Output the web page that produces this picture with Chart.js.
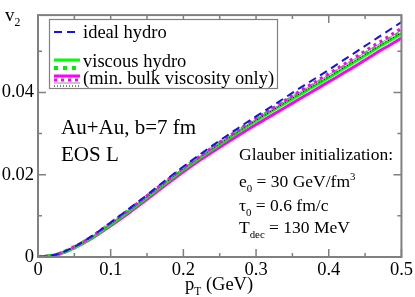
<!DOCTYPE html>
<html>
<head>
<meta charset="utf-8">
<script src="https://cdn.jsdelivr.net/npm/chart.js@4.4.0/dist/chart.umd.min.js"></script>
<style>
  body { margin: 0; background: #fff; }
  canvas { display: block; }
</style>
</head>
<body>
<canvas id="v2Chart" width="415" height="297"></canvas>
<script>
// pT grid (GeV) and v2 curves
const pT = [0, 0.025, 0.05, 0.075, 0.1, 0.125, 0.15, 0.175, 0.2, 0.225, 0.25,
  0.275, 0.3, 0.325, 0.35, 0.375, 0.4, 0.425, 0.45, 0.475, 0.5];

const idealHydro = [0, 0.0006, 0.0025, 0.0052, 0.0084, 0.0117, 0.0151, 0.0186, 0.0220, 0.0252, 0.0283,
  0.0313, 0.0342, 0.0370, 0.0399, 0.0427, 0.0455, 0.0484, 0.0513, 0.0542, 0.0571];
const viscousSolid = [0, 0.0005, 0.0023, 0.0048, 0.0079, 0.0111, 0.0145, 0.0179, 0.0213, 0.0244, 0.0274,
  0.0303, 0.0331, 0.0358, 0.0384, 0.0410, 0.0436, 0.0463, 0.0490, 0.0517, 0.0543];
const viscousDotted = [0, 0.0005, 0.0024, 0.0049, 0.0081, 0.0113, 0.0147, 0.0181, 0.0215, 0.0246, 0.0277,
  0.0306, 0.0334, 0.0361, 0.0388, 0.0414, 0.0440, 0.0467, 0.0494, 0.0520, 0.0547];
const bulkSolid = [0, 0.0005, 0.0022, 0.0046, 0.0076, 0.0107, 0.0140, 0.0174, 0.0207, 0.0238, 0.0267,
  0.0295, 0.0322, 0.0348, 0.0374, 0.0400, 0.0426, 0.0452, 0.0479, 0.0506, 0.0532];
const bulkDotted = [0, 0.0006, 0.0025, 0.0051, 0.0083, 0.0115, 0.0149, 0.0183, 0.0217, 0.0248, 0.0279,
  0.0308, 0.0337, 0.0364, 0.0392, 0.0419, 0.0446, 0.0473, 0.0501, 0.0528, 0.0556];
const graySolid = [0, 0.0006, 0.0025, 0.0050, 0.0082, 0.0114, 0.0148, 0.0182, 0.0216, 0.0247, 0.0278,
  0.0307, 0.0335, 0.0362, 0.0390, 0.0416, 0.0443, 0.0470, 0.0497, 0.0524, 0.0551];
const blackDotted = [0, 0.0005, 0.0024, 0.0049, 0.0080, 0.0112, 0.0146, 0.0180, 0.0214, 0.0245, 0.0275,
  0.0304, 0.0332, 0.0359, 0.0386, 0.0412, 0.0438, 0.0465, 0.0492, 0.0519, 0.0545];

const xTickLabels = ['0', '0.1', '0.2', '0.3', '0.4', '0.5'];
const yTickLabels = ['0', '0.02', '0.04'];
const legendLabels = ['ideal hydro', 'viscous hydro', '(min. bulk viscosity only)'];

const SERIF = '"Liberation Serif", "DejaVu Serif", serif';
const FRAME = '#808080';

const toPoints = (ys) => pT.map((x, i) => ({ x: x, y: ys[i] }));

const makeSet = (ys, color, width, dash) => ({
  data: toPoints(ys),
  borderColor: color,
  borderWidth: width,
  borderDash: dash,
  pointRadius: 0,
  fill: false,
  cubicInterpolationMode: 'monotone',
});

const datasets = [
  makeSet(idealHydro, '#1414e6', 2, [8, 5]),
  makeSet(bulkDotted, '#ff00ff', 3, [3, 4]),
  makeSet(graySolid, '#909090', 1, []),
  makeSet(blackDotted, '#000000', 1, [1, 2]),
  makeSet(viscousDotted, '#00ee00', 4, [4, 5]),
  makeSet(viscousSolid, '#00ff00', 3, []),
  makeSet(bulkSolid, '#ff00ff', 3, []),
];

// text with sub/superscripts: parts = [[text, 'n'|'sub'|'sup'], ...]
function drawRich(ctx, x, y, parts, size) {
  let cx = x;
  parts.forEach(([txt, kind]) => {
    let fs = size;
    let dy = 0;
    if (kind === 'sub') { fs = size * 0.62; dy = size * 0.28; }
    if (kind === 'sup') { fs = size * 0.62; dy = -size * 0.42; }
    ctx.font = fs + 'px ' + SERIF;
    ctx.fillText(txt, cx, y + dy);
    cx += ctx.measureText(txt).width;
  });
}

function sampleLine(ctx, x1, x2, y, set) {
  ctx.save();
  ctx.strokeStyle = set.borderColor;
  ctx.lineWidth = set.borderWidth;
  ctx.setLineDash(set.borderDash);
  ctx.beginPath();
  ctx.moveTo(x1, y);
  ctx.lineTo(x2, y);
  ctx.stroke();
  ctx.restore();
}

const decorations = {
  id: 'decorations',
  afterDraw(chart) {
    const ctx = chart.ctx;
    const a = chart.chartArea;
    const xs = chart.scales.x;
    const ys = chart.scales.y;

    ctx.save();
    // inward ticks on all four sides
    ctx.strokeStyle = FRAME;
    ctx.lineWidth = 1.5;
    xs.ticks.forEach((t) => {
      const px = xs.getPixelForValue(t.value);
      const len = Math.abs(t.value * 10 - Math.round(t.value * 10)) < 1e-6 ? 8 : 4;
      ctx.beginPath();
      ctx.moveTo(px, a.bottom); ctx.lineTo(px, a.bottom - len);
      ctx.moveTo(px, a.top); ctx.lineTo(px, a.top + len);
      ctx.stroke();
    });
    ys.ticks.forEach((t) => {
      const py = ys.getPixelForValue(t.value);
      const len = Math.abs(t.value * 50 - Math.round(t.value * 50)) < 1e-6 ? 8 : 4;
      ctx.beginPath();
      ctx.moveTo(a.left, py); ctx.lineTo(a.left + len, py);
      ctx.moveTo(a.right, py); ctx.lineTo(a.right - len, py);
      ctx.stroke();
    });
    ctx.lineWidth = 2;
    ctx.strokeRect(a.left, a.top, a.right - a.left, a.bottom - a.top);

    // legend box
    ctx.fillStyle = '#fff';
    ctx.fillRect(49, 19, 228, 69);
    ctx.strokeStyle = FRAME;
    ctx.lineWidth = 1.2;
    ctx.strokeRect(49.5, 19.5, 228, 69);
    const ds = chart.data.datasets;
    sampleLine(ctx, 54, 80, 32, ds[0]);
    sampleLine(ctx, 54, 80, 60, ds[5]);
    sampleLine(ctx, 54, 80, 68, ds[4]);
    sampleLine(ctx, 54, 80, 76, ds[6]);
    sampleLine(ctx, 54, 80, 80, ds[1]);
    sampleLine(ctx, 54, 80, 83, ds[2]);
    sampleLine(ctx, 54, 80, 86, ds[3]);

    ctx.fillStyle = '#000';
    ctx.textBaseline = 'alphabetic';
    ctx.textAlign = 'left';
    ctx.font = '18.5px ' + SERIF;
    ctx.fillText(legendLabels[0], 83, 38);
    ctx.fillText(legendLabels[1], 83, 67);
    ctx.fillText(legendLabels[2], 83, 84);

    // annotations
    ctx.font = '21px ' + SERIF;
    ctx.fillText('Au+Au, b=7 fm', 61, 134);
    ctx.fillText('EOS L', 61, 161);

    ctx.font = '17.5px ' + SERIF;
    ctx.fillText('Glauber initialization:', 239, 160);
    drawRich(ctx, 239, 187, [['e', 'n'], ['0', 'sub'], [' = 30 GeV/fm', 'n'], ['3', 'sup']], 17.5);
    drawRich(ctx, 239, 211, [['\u03c4', 'n'], ['0', 'sub'], [' = 0.6 fm/c', 'n']], 17.5);
    drawRich(ctx, 239, 233, [['T', 'n'], ['dec', 'sub'], [' = 130 MeV', 'n']], 17.5);

    // axis titles
    drawRich(ctx, 185, 290, [['p', 'n'], ['T', 'sub'], [' (GeV)', 'n']], 18.5);
    drawRich(ctx, 5, 21, [['v', 'n'], ['2', 'sub']], 19);
    ctx.restore();
  },
};

const ctx = document.getElementById('v2Chart');
new Chart(ctx, {
  type: 'line',
  data: { datasets: datasets },
  options: {
    responsive: false,
    animation: false,
    devicePixelRatio: 1,
    layout: { padding: { top: 1, right: 12, left: 0, bottom: 0 } },
    plugins: {
      legend: { display: false },
      tooltip: { enabled: false },
    },
    scales: {
      x: {
        type: 'linear',
        min: 0,
        max: 0.5,
        grid: { display: false, drawTicks: false, tickLength: 0 },
        border: { display: false },
        ticks: {
          stepSize: 0.05,
          autoSkip: false,
          maxRotation: 0,
          padding: 2,
          color: '#000',
          font: { family: SERIF, size: 18.5 },
          callback: (v) => {
            const i = Math.round(v * 10);
            return Math.abs(v * 10 - i) < 1e-6 ? xTickLabels[i] : '';
          },
        },
        afterFit: (scale) => { scale.height = 40; },
      },
      y: {
        min: 0,
        max: 0.0588,
        grid: { display: false, drawTicks: false, tickLength: 0 },
        border: { display: false },
        ticks: {
          stepSize: 0.01,
          includeBounds: false,
          autoSkip: false,
          padding: 4,
          color: '#000',
          font: { family: SERIF, size: 18.5 },
          callback: (v) => {
            const i = Math.round(v * 50);
            return Math.abs(v * 50 - i) < 1e-6 ? yTickLabels[i] : '';
          },
        },
        afterFit: (scale) => { scale.width = 38; },
      },
    },
  },
  plugins: [decorations],
});
</script>
</body>
</html>
